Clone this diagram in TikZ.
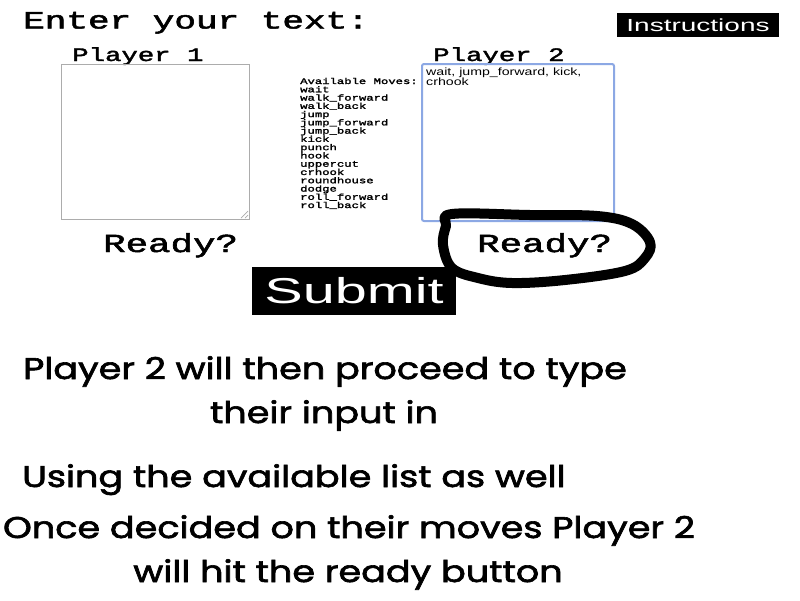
\documentclass[tikz,border=0pt]{standalone}
\usepackage{fontspec}
\setmonofont{Liberation Mono}[FakeBold=1.8]
\setsansfont{Liberation Sans}
\newfontfamily\notefont{Poppins}[FakeBold=2]
\usetikzlibrary{positioning}

\definecolor{fieldblue}{RGB}{140,168,228}
\definecolor{fieldgrey}{RGB}{172,172,172}
\newcommand{\wmono}[1]{\scalebox{1.44}[1]{#1}}
\newcommand{\wsans}[1]{\scalebox{1.6}[1]{#1}}
\newcommand{\wnote}[1]{\scalebox{1.22}[1]{#1}}

\tikzset{
  heading/.style={inner sep=0pt, anchor=base west, font=\ttfamily\fontsize{#1}{#1}\selectfont},
  field/.style={draw=fieldgrey, line width=1pt, anchor=north west, inner sep=0pt},
  button/.style={fill=black, text=white, inner sep=0pt, font=\sffamily\fontsize{#1}{#1}\selectfont},
  movetext/.style={inner sep=0pt, anchor=base west, font=\ttfamily\fontsize{8.5}{8.5}\selectfont},
  typed/.style={inner sep=0pt, anchor=base west, font=\sffamily\fontsize{10.5}{10.5}\selectfont},
  note/.style={inner sep=0pt, anchor=base, font=\notefont\fontsize{30}{30}\selectfont},
  scribble/.style={line width=10pt, line join=round, line cap=round},
}

\begin{document}
\begin{tikzpicture}[x=1pt,y=-1pt]
  \useasboundingbox[fill=white] (0,0) rectangle (800,600);

  \node[heading=25] (enter) at (23,28.5) {\wmono{Enter your text:}};
  \node[button=17.5, minimum width=162pt, minimum height=24pt] (instr) at (698,25) {\wsans{Instructions}};

  % the two players
  \node[heading=19] (p1) at (72,61) {\wmono{Player 1}};
  \node[heading=19] (p2) at (433,61) {\wmono{Player 2}};
  \node[field, minimum width=188pt, minimum height=155pt] (box1) at (61,64) {};
  \node[field, draw=fieldblue, line width=2pt, rounded corners=2pt,
        minimum width=192pt, minimum height=157pt] (box2) at (421,63) {};
  \draw[fieldgrey, line width=0.7pt] (box1.south east) ++(-2,-9) -- ++(-7,7)
        (box1.south east) ++(-2,-5) -- ++(-3,3);

  \node[typed] (typed1) at (426,75.5) {\scalebox{1.35}[1]{wait, jump\_forward, kick,}};
  \node[typed] (typed2) at (426,85) {\scalebox{1.35}[1]{crhook}};

  \foreach \mv [count=\i from 0] in {Available Moves:, wait, walk\_forward, walk\_back, jump,
      jump\_forward, jump\_back, kick, punch, hook, uppercut, crhook, roundhouse, dodge,
      roll\_forward, roll\_back}
    \node[movetext] (mv\i) at (300,84+8.27*\i) {\wmono{\mv}};

  \node[heading=26] (ready1) at (103,252) {\wmono{Ready?}};
  \node[heading=26] (ready2) at (477,252) {\wmono{Ready?}};
  \node[button=36, minimum width=204pt, minimum height=48pt] (submit) at (354,291) {\wsans{Submit}};

  % hand drawn ring
  \draw[scribble] plot[smooth cycle, tension=0.6] coordinates {(452,214) (530,215) (597,216)
      (632,224) (650,242) (645,258) (625,271) (565,280) (512,283) (478,278) (452,268)
      (443,245) (446,226)};

  \node[note] (note1) at (325,379) {\wnote{Player 2 will then proceed to type}};
  \node[note] (note2) at (324,423) {\wnote{their input in}};
  \node[note, anchor=base west] (note3) at (22,487) {\wnote{Using the available list as well}};
  \node[note] (note4) at (349,538) {\wnote{Once decided on their moves Player 2}};
  \node[note] (note5) at (348,582) {\wnote{will hit the ready button}};
\end{tikzpicture}
\end{document}
